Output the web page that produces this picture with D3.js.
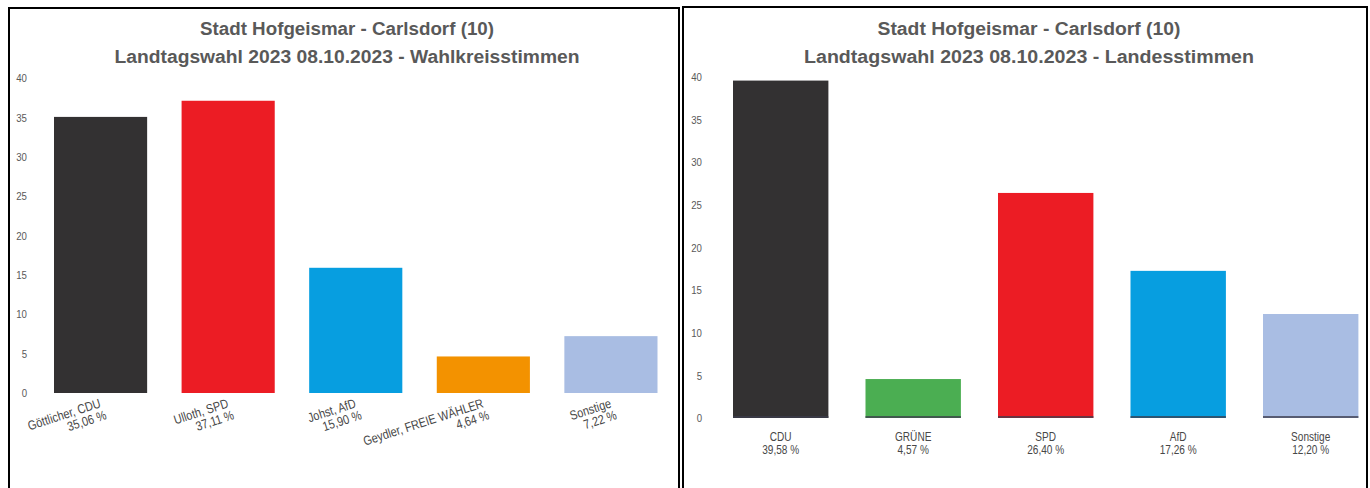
<!DOCTYPE html>
<html>
<head>
<meta charset="utf-8">
<script src="https://cdn.jsdelivr.net/npm/d3@7"></script>
<style>
html,body{margin:0;padding:0;background:#fff;}
svg{display:block;}
</style>
</head>
<body>
<svg id="chart" width="1370" height="488"></svg>
<script>
// ---- Data ----
const titleLine1 = "Stadt Hofgeismar - Carlsdorf (10)";
const titleWK = "Landtagswahl 2023 08.10.2023  - Wahlkreisstimmen";
const titleLS = "Landtagswahl 2023 08.10.2023  - Landesstimmen";

const wkCandidates = ["Göttlicher, CDU", "Ulloth, SPD", "Johst, AfD", "Geydler, FREIE WÄHLER", "Sonstige"];
const wkValues = [35.06, 37.11, 15.90, 4.64, 7.22];
const wkColors = ["#333132", "#ec1c24", "#079ee0", "#f39200", "#a9bde3"];

const lsParties = ["CDU", "GRÜNE", "SPD", "AfD", "Sonstige"];
const lsValues = [39.58, 4.57, 26.40, 17.26, 12.20];
const lsColors = ["#333132", "#4bae52", "#ec1c24", "#079ee0", "#a9bde3"];

const yTicks = [0, 5, 10, 15, 20, 25, 30, 35, 40];

// ---- Helpers ----
const fmtPct = v => d3.format(".2f")(v).replace(".", ",") + " %";
const FONT = "'Liberation Sans Narrow', 'Arial Narrow', 'Liberation Sans', Arial, sans-serif";
const GREY = "#595959";
const LBL = "#474747";
const SX = 0.84; // horizontal squeeze to imitate a narrow face

const svg = d3.select("#chart");

// panel frames
svg.append("rect").attr("x", 9).attr("y", 8).attr("width", 670).attr("height", 500)
  .attr("fill", "none").attr("stroke", "#000").attr("stroke-width", 2);
svg.append("rect").attr("x", 683).attr("y", 7).attr("width", 684).attr("height", 500)
  .attr("fill", "none").attr("stroke", "#000").attr("stroke-width", 2);

function titles(cx, line2, w1, w2) {
  svg.append("text").attr("x", cx).attr("y", 35).attr("text-anchor", "middle")
    .attr("font-family", FONT).attr("font-weight", "bold").attr("font-size", 17.5)
    .attr("fill", GREY).attr("textLength", w1).attr("lengthAdjust", "spacingAndGlyphs")
    .text(titleLine1);
  svg.append("text").attr("x", cx).attr("y", 63).attr("text-anchor", "middle")
    .attr("font-family", FONT).attr("font-weight", "bold").attr("font-size", 17.5)
    .attr("fill", GREY).attr("textLength", w2).attr("lengthAdjust", "spacingAndGlyphs")
    .text(line2);
}

function narrowTicks(ax, x) {
  ax.selectAll(".tick text")
    .attr("font-family", FONT).attr("font-size", 11.5).attr("fill", GREY)
    .attr("transform", `translate(0,0)`);
  ax.selectAll(".tick").each(function () {
    const t = d3.select(this);
    const tr = t.attr("transform");
    t.attr("transform", tr + ` scale(${SX},1)`);
  });
}

// ---- Left chart: Wahlkreisstimmen ----
titles(347, titleWK, 294, 465);

const yL = d3.scaleLinear().domain([0, 40]).range([393, 78]);
const xL = d3.scaleBand().domain(wkCandidates).range([54, 657.5]).paddingInner(0.27).paddingOuter(0);

const axL = svg.append("g").attr("transform", "translate(27,0)")
  .call(d3.axisLeft(yL).tickValues(yTicks).tickSize(0).tickPadding(0));
axL.select(".domain").remove();
narrowTicks(axL);

svg.append("g").selectAll("rect").data(wkCandidates).join("rect")
  .attr("x", d => xL(d)).attr("width", xL.bandwidth())
  .attr("y", (d, i) => yL(wkValues[i])).attr("height", (d, i) => yL(0) - yL(wkValues[i]))
  .attr("fill", (d, i) => wkColors[i]);

const lblL = svg.append("g").selectAll("g").data(wkCandidates).join("g")
  .attr("transform", d => `translate(${xL(d) + xL.bandwidth() / 2 + 1},407) rotate(-18) scale(${SX},1)`);
lblL.append("text").attr("text-anchor", "end").attr("x", 0).attr("y", 0)
  .attr("font-family", FONT).attr("font-size", 13).attr("fill", LBL).text(d => d);
lblL.append("text").attr("text-anchor", "end").attr("x", 2).attr("y", 13)
  .attr("font-family", FONT).attr("font-size", 13).attr("fill", LBL)
  .text((d, i) => fmtPct(wkValues[i]));

// ---- Right chart: Landesstimmen ----
titles(1029, titleLS, 303, 450);

const yR = d3.scaleLinear().domain([0, 40]).range([418, 77]);
const xR = d3.scaleBand().domain(lsParties).range([733, 1358.4]).paddingInner(0.28).paddingOuter(0);

const axR = svg.append("g").attr("transform", "translate(702,0)")
  .call(d3.axisLeft(yR).tickValues(yTicks).tickSize(0).tickPadding(0));
axR.select(".domain").remove();
narrowTicks(axR);

svg.append("g").selectAll("rect").data(lsParties).join("rect")
  .attr("x", d => xR(d)).attr("width", xR.bandwidth())
  .attr("y", (d, i) => yR(lsValues[i])).attr("height", (d, i) => yR(0) - yR(lsValues[i]))
  .attr("fill", (d, i) => lsColors[i]);
svg.append("g").selectAll("rect").data(lsParties).join("rect")
  .attr("x", d => xR(d)).attr("width", xR.bandwidth())
  .attr("y", yR(0) - 2).attr("height", 2)
  .attr("fill", "#3c3c4c").attr("opacity", 0.75);

const lblR = svg.append("g").selectAll("g").data(lsParties).join("g")
  .attr("transform", d => `translate(${xR(d) + xR.bandwidth() / 2},441) scale(${SX},1)`);
lblR.append("text").attr("text-anchor", "middle").attr("y", 0)
  .attr("font-family", FONT).attr("font-size", 12).attr("fill", LBL).text(d => d);
lblR.append("text").attr("text-anchor", "middle").attr("y", 13.5)
  .attr("font-family", FONT).attr("font-size", 12).attr("fill", LBL)
  .text((d, i) => fmtPct(lsValues[i]));
</script>
</body>
</html>
